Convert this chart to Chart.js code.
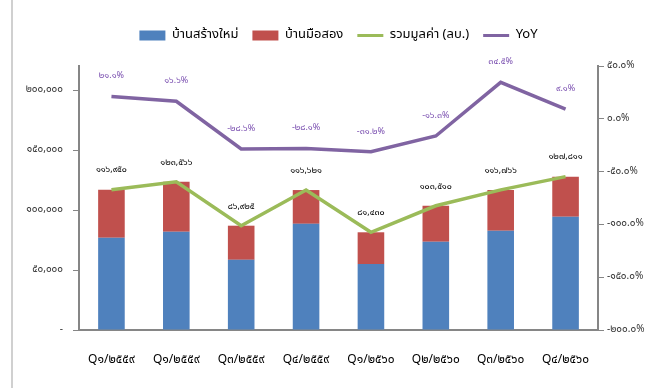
<!DOCTYPE html>
<html><head><meta charset="utf-8">
<script src="https://cdn.jsdelivr.net/npm/chart.js@4.4.1/dist/chart.umd.min.js"></script>
<style>html,body{margin:0;padding:0;background:#fff}#wrap{width:653px;height:388px;position:relative}</style>
</head><body><div id="wrap"><canvas id="c" width="653" height="388"></canvas></div>
<script>
const categories = ['Q๑/๒๕๕๙','Q๑/๒๕๕๙','Q๓/๒๕๕๙','Q๔/๒๕๕๙','Q๑/๒๕๖๐','Q๒/๒๕๖๐','Q๓/๒๕๖๐','Q๔/๒๕๖๐'];
const newHomes = [76800, 81800, 58500, 88500, 55000, 73500, 82700, 94400];
const secondHand = [40150, 41766, 28425, 28121, 26430, 30010, 34066, 33411];
const totalValue = [116950, 123566, 86925, 116621, 81430, 103510, 116766, 127811];
const yoy = [21.1, 16.6, -28.6, -28.1, -31.2, -16.3, 34.5, 9.1];
const seriesNames = ['บ้านสร้างใหม่', 'บ้านมือสอง', 'รวมมูลค่า (ลบ.)', 'YoY'];
const leftTicks = [0, 50000, 100000, 150000, 200000];
const rightTicks = [-200, -150, -100, -50, 0, 50];

const thaiDigits = '๐๑๒๓๔๕๖๗๘๙';
function toThai(s){ return String(s).replace(/[0-9]/g, d => thaiDigits[+d]); }
function fmtNum(v){ return toThai(Math.round(v).toString().replace(/\B(?=(\d{3})+(?!\d))/g, ',')); }
function fmtPct(v){ return toThai(v.toFixed(1)) + '%'; }

const FONT = "Tahoma, 'Noto Sans Thai', 'DejaVu Sans', sans-serif";
const COLORS = {blue:'#4F81BD', red:'#C0504D', green:'#9BBB59', purple:'#8064A2', axis:'#868686'};

const decor = {
  id: 'decor',
  beforeLayout(chart){
    const lg = chart.legend;
    if (lg && !lg._wrapped){
      const f = lg.fit;
      lg.fit = function(){ f.call(this); this.height = 51; };
      lg._wrapped = true;
    }
  },
  afterLayout(chart){
    const lg = chart.legend;
    if (lg){ lg.left += 12; lg.right += 12; }
  },
  beforeDraw(chart){
    const ctx = chart.ctx;
    ctx.save();
    ctx.strokeStyle = '#D0D0D0'; ctx.lineWidth = 2;
    ctx.beginPath(); ctx.moveTo(12, 0); ctx.lineTo(12, 388); ctx.stroke();
    ctx.restore();
  },
  afterDatasetsDraw(chart){
    const ctx = chart.ctx;
    ctx.save();
    ctx.textAlign = 'center'; ctx.textBaseline = 'middle';
    ctx.font = '9px ' + FONT;
    ctx.fillStyle = '#000';
    chart.getDatasetMeta(2).data.forEach((pt, i) => {
      ctx.fillText(fmtNum(totalValue[i]), pt.x, pt.y - 19);
    });
    ctx.fillStyle = '#7A4FB0';
    chart.getDatasetMeta(3).data.forEach((pt, i) => {
      ctx.fillText(fmtPct(yoy[i]), pt.x, pt.y - 20);
    });
    ctx.restore();
  }
};

new Chart(document.getElementById('c'), {
  type: 'bar',
  data: {
    labels: categories,
    datasets: [
      {label: seriesNames[0], data: newHomes, backgroundColor: COLORS.blue, stack: 'a', yAxisID: 'y', order: 2, barPercentage: 0.41, categoryPercentage: 1, borderWidth: 0},
      {label: seriesNames[1], data: secondHand, backgroundColor: COLORS.red, stack: 'a', yAxisID: 'y', order: 2, barPercentage: 0.41, categoryPercentage: 1, borderWidth: 0},
      {type: 'line', label: seriesNames[2], data: totalValue, borderColor: COLORS.green, backgroundColor: COLORS.green, borderWidth: 3.5, pointRadius: 0, stack: 'tot', yAxisID: 'y', order: 1, tension: 0},
      {type: 'line', label: seriesNames[3], data: yoy, borderColor: COLORS.purple, backgroundColor: COLORS.purple, borderWidth: 3.5, pointRadius: 0, yAxisID: 'y1', order: 1, tension: 0}
    ]
  },
  options: {
    responsive: false,
    animation: false,
    devicePixelRatio: 1,
    layout: {padding: {top: 15, left: 0, right: 0, bottom: 0}},
    plugins: {
      legend: {
        position: 'top',
        labels: {
          font: {family: FONT, size: 13}, color: '#000',
          usePointStyle: true, pointStyleWidth: 26, boxHeight: 10, padding: 14,
          sort: (a, b) => a.datasetIndex - b.datasetIndex,
          generateLabels(chart){
            return chart.data.datasets.map((ds, i) => ({
              text: ds.label, datasetIndex: i,
              fillStyle: ds.backgroundColor, strokeStyle: ds.type === 'line' ? ds.borderColor : ds.backgroundColor,
              lineWidth: ds.type === 'line' ? 3 : 0,
              pointStyle: ds.type === 'line' ? 'line' : 'rect',
              hidden: false, fontColor: '#000'
            }));
          }
        }
      },
      tooltip: {enabled: false}
    },
    scales: {
      x: {
        grid: {display: false},
        border: {display: true, color: COLORS.axis, width: 2},
        ticks: {font: {family: FONT, size: 12}, color: '#000', padding: 15, maxRotation: 0, autoSkip: false},
        afterFit(s){ s.height = 58; }
      },
      y: {
        position: 'left', stacked: true, min: 0, max: 220000,
        afterBuildTicks(s){ s.ticks = leftTicks.map(v => ({value: v})); },
        grid: {display: true, drawOnChartArea: false, drawTicks: true, tickLength: 6, color: COLORS.axis, lineWidth: 1},
        border: {display: true, color: COLORS.axis, width: 2},
        ticks: {font: {family: FONT, size: 10}, color: '#333', padding: 10, callback: v => v === 0 ? '-' : fmtNum(v)},
        afterFit(s){ s.width = 79; }
      },
      y1: {
        position: 'right', min: -200, max: 50,
        afterBuildTicks(s){ s.ticks = rightTicks.map(v => ({value: v})); },
        grid: {display: true, drawOnChartArea: false, drawTicks: true, tickLength: 6, color: COLORS.axis, lineWidth: 1},
        border: {display: true, color: COLORS.axis, width: 2},
        ticks: {font: {family: FONT, size: 10}, color: '#333', padding: 3, callback: v => fmtPct(v)},
        afterFit(s){ s.width = 55; }
      }
    }
  },
  plugins: [decor]
});
</script></body></html>
